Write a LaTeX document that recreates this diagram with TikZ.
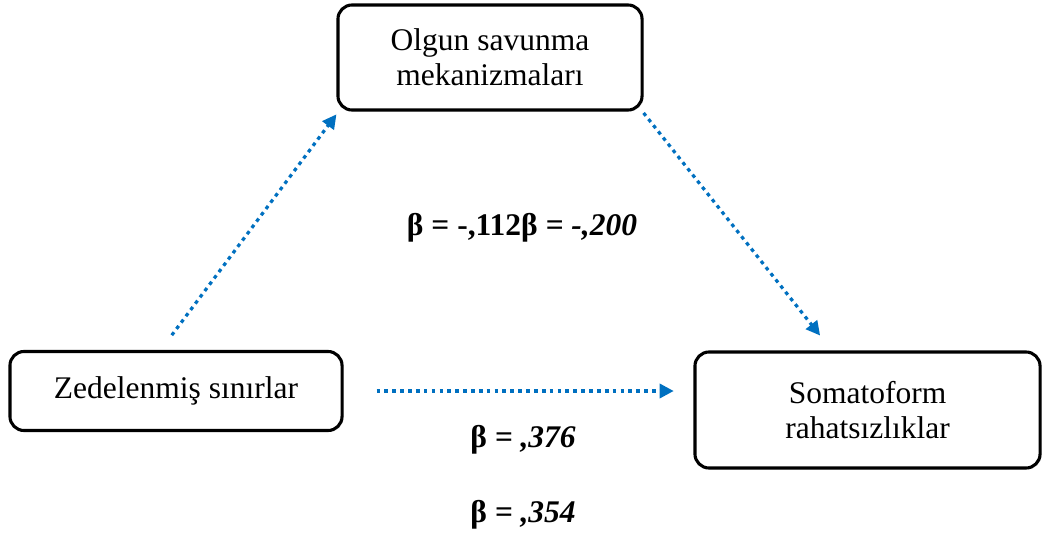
\documentclass[tikz,border=0pt]{standalone}
\usepackage{fontspec}
\setmainfont{Liberation Serif}
\usetikzlibrary{arrows.meta,shadows}
\definecolor{linkblue}{HTML}{0070C0}

\begin{document}
\begin{tikzpicture}[x=0.025cm, y=-0.025cm,
  box/.style={draw, line width=2.2pt, rounded corners=10pt, fill=white,
    align=center, inner sep=0pt, font=\fontsize{22.4}{25}\selectfont,
    drop shadow={shadow xshift=1pt, shadow yshift=-1pt, opacity=0.25}},
  link/.style={linkblue, line width=2.3pt, dash pattern=on 2.6pt off 3pt,
    -{Triangle[length=10pt,width=10pt]}},
  coef/.style={font=\fontsize{22.4}{25}\selectfont\bfseries}]
  \useasboundingbox (0,0) rectangle (1043,537);
  % boxes
  \node[box, minimum width=7.6cm, minimum height=2.625cm] (olgun) at (490,57.5)
    {Olgun savunma\\mekanizmaları};
  \node[box, minimum width=8.3cm, minimum height=1.975cm] (zed) at (176,391)
    {Zedelenmiş sınırlar};
  \node[box, minimum width=8.625cm, minimum height=2.9cm] (som) at (867.5,410)
    {Somatoform\\rahatsızlıklar};
  % paths
  \draw[link] ([xshift=-3pt,yshift=10.5pt]zed.north) -- ([yshift=-2pt]olgun.south west);
  \draw[link] ([yshift=-1pt]olgun.south east) -- ([xshift=-33.7pt,yshift=10.6pt]som.north);
  \draw[link, shorten <=23.4pt, shorten >=14pt] (zed.east) -- (zed.east -| som.west);
  % coefficients
  \node[coef] (b-ind) at (522,228) {β = -,112β \textit{= -,200}};
  \node[coef] (b-dir) at (523,440) {β \textit{= ,376}};
  \node[coef] (b-tot) at (523,515) {β \textit{= ,354}};
\end{tikzpicture}
\end{document}
